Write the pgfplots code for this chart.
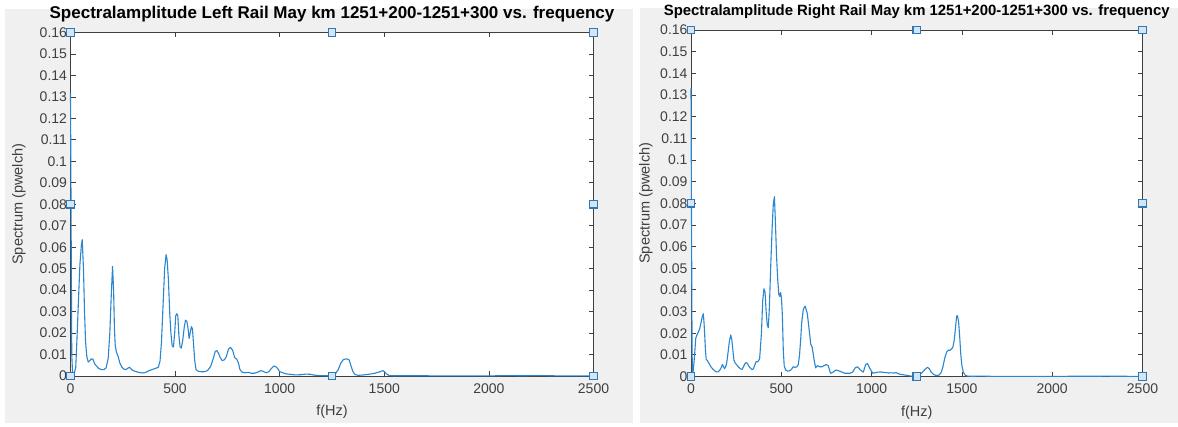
\documentclass[border=0pt]{standalone}
\usepackage{fontspec}
\setmainfont{Liberation Sans}
\usepackage{pgfplots}
\pgfplotsset{compat=1.18}

\definecolor{figgray}{HTML}{F0F0F0}
\definecolor{axgray}{HTML}{404040}
\definecolor{lineblue}{HTML}{2A86CF}
\definecolor{mkblue}{HTML}{2F78B4}
\definecolor{mkfill}{HTML}{D4E6F5}

\pgfplotsset{
  panel/.style={
    scale only axis,
    xmin=0, xmax=2500, ymin=0, ymax=0.16,
    xtick={0,500,1000,1500,2000,2500},
    ytick={0,0.01,0.02,0.03,0.04,0.05,0.06,0.07,0.08,0.09,0.1,0.11,0.12,0.13,0.14,0.15,0.16},
    scaled y ticks=false,
    axis background/.style={fill=white},
    axis line style={draw=axgray, line width=0.9pt},
    every tick/.style={draw=axgray, line width=0.8pt},
    major tick length=5pt,
    tick align=inside,
    /pgf/number format/assume math mode=true,
    tick label style={font=\fontsize{14}{16}\selectfont, text=axgray},
    yticklabel style={/pgf/number format/fixed, /pgf/number format/precision=2},
    xticklabel style={/pgf/number format/1000 sep={}, yshift=-4pt},
    label style={font=\fontsize{14.5}{16}\selectfont, text=axgray},
    xlabel={f(Hz)},
    ylabel={Spectrum (pwelch)},
    clip=false,
  },
  trace/.style={lineblue, line width=1.1pt, line join=round},
  handles/.style={only marks, mark=square*, mark size=3.8pt,
    mark options={draw=mkblue, fill=mkfill, line width=1.2pt}},
}

\begin{document}
\begin{tikzpicture}
  % figure canvas and the two window backgrounds
  \fill[white] (0pt,0pt) rectangle (1178pt,426pt);
  \fill[figgray] (5pt,3pt) rectangle (633pt,417pt);
  \fill[figgray] (640pt,3pt) rectangle (1178pt,418pt);

  % ---------------- Left rail ----------------
  \begin{axis}[panel,
      at={(70.5pt,50pt)}, anchor=south west,
      width=523pt, height=343.5pt,
      ylabel style={at={(axis description cs:-0.0985,0.5)}, anchor=center},
      xlabel style={at={(axis description cs:0.5,-0.1048)}, anchor=center},
      title={Spectralamplitude Left Rail May km 1251+200-1251+300 vs. frequency},
      title style={at={(axis description cs:0.5,1.0349)}, anchor=center,
        font=\fontsize{17}{19}\selectfont\bfseries, text=black},
    ]
    \addplot[trace] coordinates {
      (0,0.132)(3,0.07)(6,0.01)(10,0.001)(15,0.001)(20,0.002)(25,0.004)(30,0.015)
      (38,0.035)(45,0.052)(52,0.061)(56,0.0635)(62,0.05)(67,0.03)(72,0.016)(78,0.009)
      (85,0.0065)(92,0.0072)(100,0.008)(107,0.0078)(115,0.0058)(125,0.0045)(135,0.0035)
      (148,0.003)(160,0.003)(170,0.0038)(180,0.008)(188,0.02)(195,0.038)(201,0.051)
      (206,0.04)(210,0.022)(214,0.014)(220,0.011)(228,0.009)(236,0.006)(245,0.0042)
      (255,0.0032)(265,0.003)(275,0.0037)(282,0.0041)(290,0.0032)(300,0.0025)(315,0.002)
      (330,0.0016)(345,0.0014)(360,0.0017)(375,0.0025)(390,0.003)(405,0.0035)(420,0.0041)
      (428,0.007)(435,0.016)(442,0.032)(450,0.05)(457,0.0565)(462,0.054)(468,0.045)
      (474,0.03)(480,0.02)(486,0.014)(492,0.0135)(498,0.02)(503,0.028)(508,0.029)
      (513,0.028)(518,0.019)(524,0.0135)(530,0.013)(537,0.017)(544,0.023)(550,0.026)
      (556,0.0255)(562,0.022)(567,0.0175)(572,0.02)(578,0.023)(583,0.022)(588,0.015)
      (594,0.007)(600,0.003)(610,0.0022)(625,0.002)(640,0.002)(655,0.0025)(670,0.0045)
      (682,0.008)(692,0.0115)(700,0.0118)(708,0.0105)(716,0.0085)(725,0.0072)(735,0.0075)
      (745,0.009)(755,0.0125)(765,0.0133)(775,0.012)(785,0.0085)(795,0.0078)(803,0.006)
      (810,0.003)(820,0.0018)(835,0.0015)(850,0.0017)(865,0.0013)(880,0.0013)(895,0.0018)
      (910,0.0025)(920,0.0022)(935,0.0015)(948,0.002)(960,0.0035)(972,0.0046)(980,0.0045)
      (990,0.0035)(1000,0.002)(1015,0.0015)(1030,0.001)(1050,0.0008)(1075,0.0005)
      (1100,0.0006)(1125,0.0009)(1145,0.0008)(1165,0.0004)(1190,0.0002)(1220,0.0001)
      (1245,0.0002)(1265,0.0008)(1280,0.003)(1292,0.006)(1305,0.0077)(1320,0.008)
      (1332,0.0075)(1340,0.005)(1350,0.002)(1360,0.0007)(1375,0.0003)(1400,0.0005)
      (1425,0.0008)(1450,0.0012)(1470,0.0017)(1485,0.0022)(1493,0.0025)(1500,0.0021)
      (1510,0.001)(1522,0.0003)(1540,0.0001)(1600,0.0001)(1700,0.0001)(1800,0.00005)
      (1900,0.00005)(2000,0.00005)(2100,0.0002)(2150,0.0001)(2250,0.0002)(2300,0.0001)
      (2400,0.00005)(2500,0.00005)
    };
    \addplot[handles] coordinates {
      (0,0)(0,0.08)(0,0.16)(1250,0)(1250,0.16)(2500,0)(2500,0.08)(2500,0.16)
    };
  \end{axis}

  % ---------------- Right rail ----------------
  \begin{axis}[panel,
      at={(691pt,49.5pt)}, anchor=south west,
      width=451.5pt, height=346.5pt,
      ylabel style={at={(axis description cs:-0.0997,0.5)}, anchor=center},
      xlabel style={at={(axis description cs:0.5,-0.1039)}, anchor=center},
      title={Spectralamplitude Right Rail May km 1251+200-1251+300 vs. frequency},
      title style={at={(axis description cs:0.5,1.0343)}, anchor=center,
        font=\fontsize{14.9}{17}\selectfont\bfseries, text=black},
    ]
    \addplot[trace] coordinates {
      (0,0.133)(3,0.07)(6,0.01)(10,0.001)(14,0.004)(20,0.01)(26,0.0175)(32,0.019)
      (40,0.0205)(48,0.022)(56,0.025)(62,0.0275)(68,0.029)(72,0.025)(76,0.019)(80,0.012)
      (84,0.008)(92,0.0072)(100,0.006)(110,0.0045)(120,0.0035)(130,0.0027)(140,0.0022)
      (150,0.0021)(160,0.003)(168,0.0042)(174,0.0056)(180,0.0045)(186,0.0036)(192,0.0045)
      (198,0.0065)(205,0.011)(212,0.016)(220,0.0192)(226,0.017)(232,0.012)(238,0.0075)
      (245,0.0062)(255,0.0052)(265,0.0042)(275,0.0035)(283,0.0033)(290,0.0045)(298,0.0058)
      (305,0.0065)(312,0.006)(320,0.0048)(330,0.0038)(338,0.0032)(345,0.0035)(352,0.005)
      (360,0.0068)(370,0.0068)(380,0.0082)(390,0.02)(397,0.035)(404,0.0405)(410,0.039)
      (416,0.03)(422,0.024)(428,0.0225)(434,0.032)(441,0.05)(450,0.07)(456,0.08)
      (462,0.083)(467,0.072)(474,0.055)(480,0.045)(486,0.038)(491,0.037)(496,0.0388)
      (501,0.036)(506,0.028)(511,0.012)(516,0.005)(524,0.003)(535,0.0025)(548,0.0027)
      (558,0.0035)(566,0.0045)(576,0.0042)(586,0.0045)(594,0.0055)(601,0.01)(608,0.018)
      (613,0.025)(622,0.031)(632,0.0325)(644,0.029)(655,0.021)(663,0.015)(671,0.0135)
      (681,0.008)(690,0.004)(700,0.005)(712,0.0045)(725,0.0045)(737,0.005)(749,0.0055)
      (760,0.005)(772,0.0015)(787,0.002)(802,0.003)(822,0.0025)(851,0.0015)(880,0.0015)
      (895,0.002)(909,0.004)(922,0.0045)(938,0.003)(954,0.002)(967,0.0055)(977,0.006)
      (992,0.0035)(1007,0.0015)(1034,0.002)(1050,0.0021)(1065,0.0019)(1080,0.0018)
      (1095,0.0016)(1110,0.0017)(1125,0.0016)(1135,0.0018)(1145,0.0014)(1160,0.001)
      (1175,0.0008)(1190,0.0006)(1210,0.0003)(1230,0.0001)(1250,0.0002)(1265,0.0008)
      (1280,0.0018)(1295,0.0032)(1310,0.0043)(1320,0.0035)(1330,0.002)(1342,0.001)
      (1355,0.0005)(1365,0.0004)(1375,0.0008)(1385,0.0018)(1395,0.0045)(1405,0.0085)
      (1415,0.0112)(1425,0.0122)(1432,0.012)(1440,0.0125)(1450,0.0135)(1458,0.017)
      (1465,0.023)(1471,0.028)(1476,0.028)(1482,0.025)(1488,0.018)(1494,0.01)(1500,0.005)
      (1508,0.002)(1518,0.0006)(1530,0.0002)(1560,0.0001)(1600,0.0002)(1650,0.0001)
      (1700,0.00005)(1800,0.00005)(1900,0.00005)(2000,0.00005)(2100,0.0001)(2200,0.0001)
      (2300,0.00015)(2400,0.0001)(2500,0.00005)
    };
    \addplot[handles] coordinates {
      (0,0)(0,0.08)(0,0.16)(1250,0)(1250,0.16)(2500,0)(2500,0.08)(2500,0.16)
    };
  \end{axis}
\end{tikzpicture}
\end{document}
